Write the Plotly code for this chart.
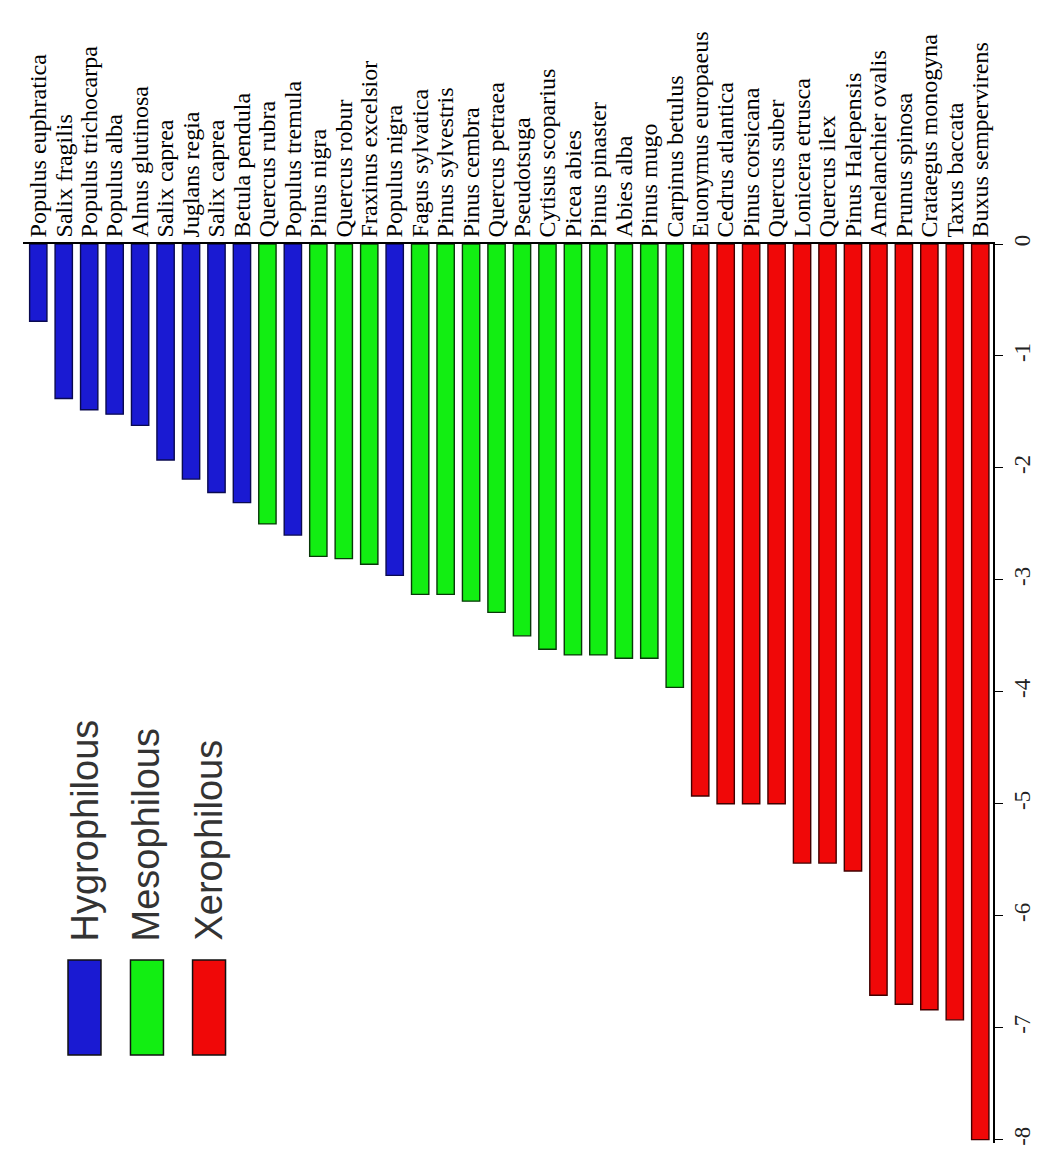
import plotly.graph_objects as go

species = [
    "Populus euphratica", "Salix fragilis", "Populus trichocarpa", "Populus alba",
    "Alnus glutinosa", "Salix caprea", "Juglans regia", "Salix caprea",
    "Betula pendula", "Quercus rubra", "Populus tremula", "Pinus nigra",
    "Quercus robur", "Fraxinus excelsior", "Populus nigra", "Fagus sylvatica",
    "Pinus sylvestris", "Pinus cembra", "Quercus petraea", "Pseudotsuga",
    "Cytisus scoparius", "Picea abies", "Pinus pinaster", "Abies alba",
    "Pinus mugo", "Carpinus betulus", "Euonymus europaeus", "Cedrus atlantica",
    "Pinus corsicana", "Quercus suber", "Lonicera etrusca", "Quercus ilex",
    "Pinus Halepensis", "Amelanchier ovalis", "Prunus spinosa",
    "Crataegus monogyna", "Taxus baccata", "Buxus sempervirens",
]
values = [
    -0.69, -1.38, -1.48, -1.52, -1.62, -1.93, -2.10, -2.22,
    -2.31, -2.50, -2.60, -2.79, -2.81, -2.86, -2.96, -3.13,
    -3.13, -3.19, -3.29, -3.50, -3.62, -3.67, -3.67, -3.70,
    -3.70, -3.96, -4.93, -5.00, -5.00, -5.00, -5.53, -5.53,
    -5.60, -6.71, -6.79, -6.84, -6.93, -8.00,
]
groups = (["H"] * 9 + ["M"] + ["H"] + ["M"] * 3 + ["H"] + ["M"] * 11 + ["X"] * 12)

group_names = {"H": "Hygrophilous", "M": "Mesophilous", "X": "Xerophilous"}
group_colors = {"H": "#1a1ad2", "M": "#12ee12", "X": "#f00808"}
group_lines = {"H": "#0a0a50", "M": "#083808", "X": "#400000"}
y_ticks = [0, -1, -2, -3, -4, -5, -6, -7, -8]

fig = go.Figure()
idx = list(range(len(species)))
for g in ["H", "M", "X"]:
    xs = [i for i in idx if groups[i] == g]
    ys = [values[i] for i in xs]
    fig.add_trace(go.Bar(
        x=xs, y=ys, name=group_names[g], width=0.68,
        marker=dict(color=group_colors[g], line=dict(color=group_lines[g], width=1.4)),
        showlegend=False,
    ))

fig.update_layout(
    width=1049, height=1168,
    margin=dict(l=15, r=64, t=236, b=33),
    paper_bgcolor="white", plot_bgcolor="white",
    bargap=0.3,
)
fig.update_xaxes(
    side="top", range=[-0.6, 37.5],
    tickmode="array", tickvals=idx, ticktext=species, tickangle=-90,
    tickfont=dict(family="Liberation Serif", size=24, color="black"),
    showline=True, linecolor="black", linewidth=1.5,
    showgrid=False, zeroline=False, ticks="",
)
fig.update_yaxes(
    side="right", range=[-8.03, 0],
    tickmode="array", tickvals=y_ticks, ticktext=[str(v) for v in y_ticks],
    tickangle=-90,
    tickfont=dict(family="Liberation Serif", size=23, color="#222"),
    showline=True, linecolor="black", linewidth=1.5,
    ticks="outside", ticklen=8, tickcolor="black",
    showgrid=False, zeroline=False,
)

# rotated legend
leg_x = [0.0634, 0.1278, 0.1918]
for k, g in enumerate(["H", "M", "X"]):
    cx = leg_x[k]
    fig.add_shape(type="rect", xref="paper", yref="paper",
                  x0=cx - 0.017, x1=cx + 0.017, y0=0.098, y1=0.2036,
                  fillcolor=group_colors[g], line=dict(color="#111", width=1.5))
    fig.add_annotation(xref="paper", yref="paper", x=cx, y=0.2225,
                       xanchor="center", yanchor="bottom", textangle=-90,
                       text=group_names[g], showarrow=False,
                       font=dict(family="Liberation Sans", size=38, color="#333"))

fig.write_html("out.html")
